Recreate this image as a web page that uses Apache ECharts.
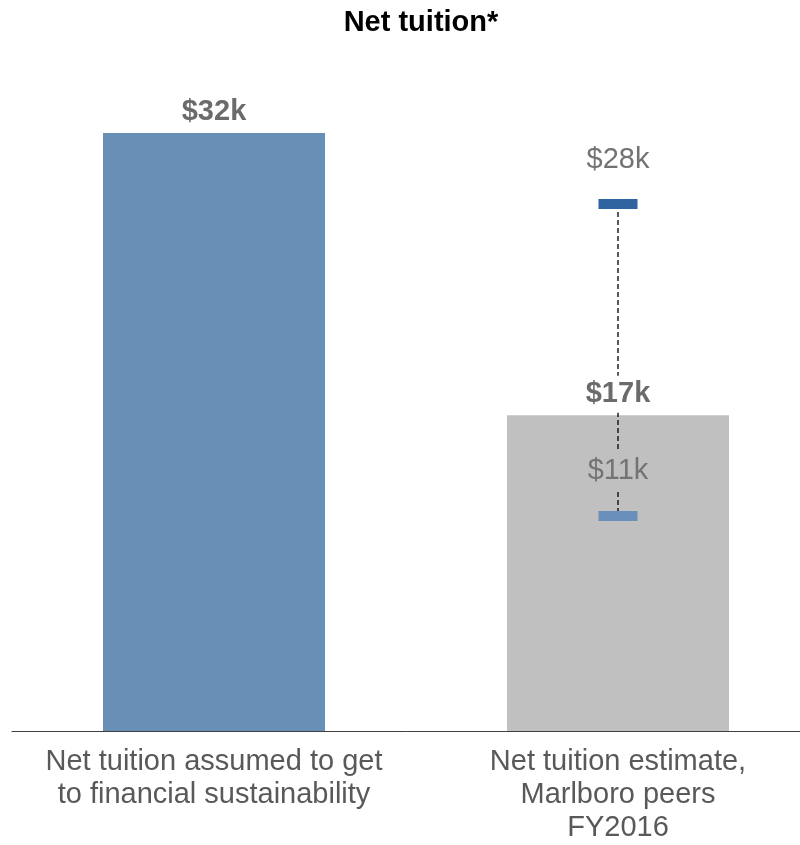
<!DOCTYPE html>
<html><head><meta charset="utf-8">
<script src="https://cdn.jsdelivr.net/npm/echarts@6/dist/echarts.min.js"></script>
<style>html,body{margin:0;padding:0;background:#fff}#c{width:800px;height:845px}</style>
</head><body><div id="c"></div>
<script>
const categories = ['Net tuition assumed to get\nto financial sustainability', 'Net tuition estimate,\nMarlboro peers\nFY2016'];
const barValues = [32, 16.9];
const barLabels = ['$32k', '$17k'];
const rangeHigh = 28.2;
const rangeLow = 11.5;
const rangeLabels = ['$28k', '$11k'];

const chart = echarts.init(document.getElementById('c'));
const FONT = '"Liberation Sans", Arial, sans-serif';
chart.setOption({
  animation: false,
  title: { text: 'Net tuition*', left: 416, textAlign: 'center', top: 3,
    textStyle: { fontFamily: FONT, fontSize: 29, fontWeight: 'bold', color: '#000' } },
  grid: { left: 12, width: 808, top: 95.6, height: 635.4, outerBoundsMode: 'none', containLabel: false },
  xAxis: { type: 'category', data: categories,
    axisLine: { lineStyle: { color: '#404040', width: 1 } },
    axisTick: { show: false },
    axisLabel: { interval: 0, margin: 14, fontFamily: FONT, fontSize: 29, lineHeight: 33, color: '#595959' } },
  yAxis: { type: 'value', min: 0, max: 34, show: false, splitLine: { show: false } },
  series: [
    { type: 'bar', z: 1, barWidth: 222, silent: true,
      data: barValues.map((v, i) => ({ value: v, itemStyle: { color: i === 0 ? '#688fb6' : '#c0c0c0' } })) },
    { type: 'line', z: 2, symbol: 'none', silent: true,
      lineStyle: { color: '#000', width: 1.3, type: [5, 3] },
      data: [[1, rangeHigh], [1, rangeLow]] },
    { type: 'scatter', z: 3, symbol: 'rect', symbolSize: [39, 10], silent: true,
      data: [ { value: [1, rangeHigh], itemStyle: { color: '#2f64a0', opacity: 1 } },
              { value: [1, rangeLow], itemStyle: { color: '#6a8fbb', opacity: 1 } } ] },
    { type: 'scatter', z: 4, symbolSize: 0, silent: true, itemStyle: { opacity: 1 },
      data: barValues.map((v, i) => ({ value: [i, v], label: { backgroundColor: i === 1 ? '#fff' : 'transparent' } })),
      label: { show: true, position: 'top', distance: 2.5, fontFamily: FONT, fontSize: 29, fontWeight: 'bold',
        color: '#6b6b6b', lineHeight: 29, padding: [4, 4],
        formatter: p => barLabels[p.dataIndex] } },
    { type: 'scatter', z: 4, symbolSize: 0, silent: true, itemStyle: { opacity: 1 },
      data: [ { value: [1, rangeHigh], label: { distance: 25 } }, { value: [1, rangeLow], label: { backgroundColor: '#c0c0c0' } } ],
      label: { show: true, position: 'top', distance: 27, fontFamily: FONT, fontSize: 29,
        color: '#737373', lineHeight: 29, padding: [4, 4],
        formatter: p => rangeLabels[p.dataIndex] } }
  ]
});
</script></body></html>
